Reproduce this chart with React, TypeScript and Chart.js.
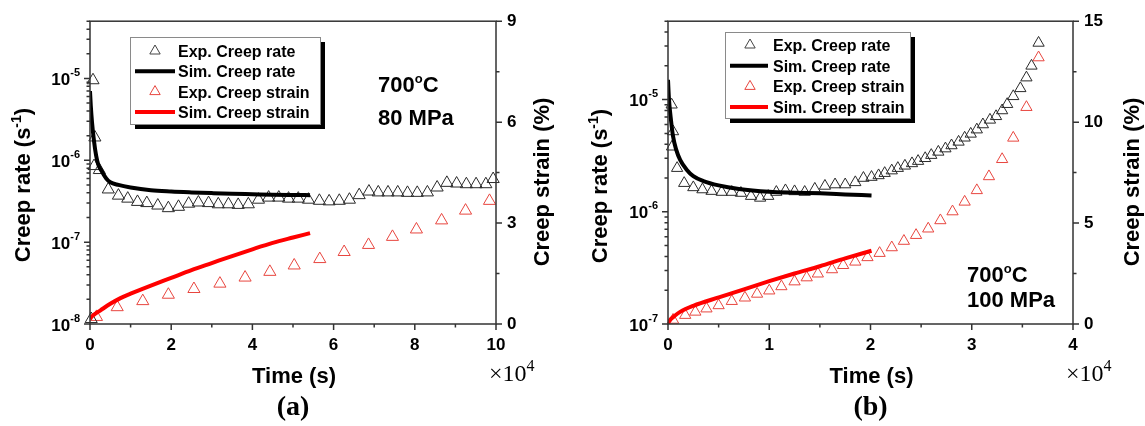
import { useEffect, useRef } from "react";
import { Chart, registerables } from "chart.js";

Chart.register(...registerables);

// ---------------- Panel (a): 700°C, 80 MPa (time in 10^4 s) ----------------
const aExpRateT = [0.03, 0.074, 0.12, 0.1, 0.23, 0.45, 0.7, 0.93, 1.17, 1.4, 1.67, 1.93, 2.18, 2.43, 2.67, 2.92, 3.16, 3.41, 3.65, 3.9, 4.15, 4.4, 4.65, 4.89, 5.13, 5.38, 5.65, 5.89, 6.14, 6.39, 6.63, 6.87, 7.1, 7.34, 7.58, 7.82, 8.06, 8.31, 8.55, 8.79, 9.03, 9.27, 9.51, 9.75, 9.93];
const aExpRateV = [1.15e-8, 9.5e-6, 1.9e-6, 8.5e-7, 7.6e-7, 4.4e-7, 3.7e-7, 3.4e-7, 3.1e-7, 3.0e-7, 2.8e-7, 2.6e-7, 2.7e-7, 2.95e-7, 3.05e-7, 3.0e-7, 2.9e-7, 2.9e-7, 2.85e-7, 2.9e-7, 3.3e-7, 3.5e-7, 3.5e-7, 3.4e-7, 3.4e-7, 3.3e-7, 3.2e-7, 3.15e-7, 3.2e-7, 3.3e-7, 3.75e-7, 4.15e-7, 4.05e-7, 4.05e-7, 4.05e-7, 4.0e-7, 4.0e-7, 4.05e-7, 4.65e-7, 5.3e-7, 5.2e-7, 5.1e-7, 5.1e-7, 5.1e-7, 5.9e-7];
const aSimRateT = [0, 0.02, 0.05, 0.1, 0.15, 0.2, 0.3, 0.4, 0.5, 0.7, 1.0, 1.5, 2.0, 2.5, 3.0, 3.5, 4.0, 4.5, 5.0, 5.42];
const aSimRateV = [7.0e-6, 4.6e-6, 2.9e-6, 1.7e-6, 1.15e-6, 9.0e-7, 7.2e-7, 6.0e-7, 5.4e-7, 5.0e-7, 4.65e-7, 4.3e-7, 4.15e-7, 4.05e-7, 3.97e-7, 3.9e-7, 3.85e-7, 3.8e-7, 3.77e-7, 3.75e-7];
const aExpStrainT = [0.16, 0.67, 1.3, 1.93, 2.56, 3.2, 3.82, 4.43, 5.03, 5.66, 6.26, 6.86, 7.45, 8.04, 8.66, 9.25, 9.84];
const aExpStrainV = [0.21, 0.5, 0.68, 0.87, 1.04, 1.2, 1.38, 1.55, 1.74, 1.93, 2.14, 2.35, 2.59, 2.81, 3.08, 3.37, 3.66];
const aSimStrainT = [0, 0.05, 0.1, 0.25, 0.5, 0.75, 1.0, 1.5, 2.0, 2.5, 3.0, 3.5, 4.0, 4.5, 5.0, 5.42];
const aSimStrainV = [0.15, 0.23, 0.28, 0.4, 0.6, 0.77, 0.9, 1.14, 1.37, 1.6, 1.81, 2.02, 2.22, 2.41, 2.57, 2.7];
const aTimeTicks = [0, 2, 4, 6, 8, 10];
const aTimeMinor = [1, 3, 5, 7, 9];
const aRateDecades = [1e-8, 1e-7, 1e-6, 1e-5];
const aStrainTicks = [0, 3, 6, 9];
const aStrainMinor = [1.5, 4.5, 7.5];

// ---------------- Panel (b): 700°C, 100 MPa ----------------
const bExpRateT = [0.036, 0.05, 0.04, 0.09, 0.16, 0.25, 0.34, 0.43, 0.53, 0.63, 0.72, 0.82, 0.91, 0.99, 1.07, 1.16, 1.25, 1.35, 1.45, 1.55, 1.65, 1.75, 1.85, 1.93, 2.01, 2.08, 2.14, 2.21, 2.27, 2.34, 2.41, 2.47, 2.54, 2.6, 2.67, 2.74, 2.8, 2.87, 2.93, 2.99, 3.05, 3.11, 3.18, 3.24, 3.3, 3.35, 3.41, 3.48, 3.54, 3.59, 3.66];
const bExpRateV = [9.0e-6, 5.2e-6, 3.8e-6, 2.45e-6, 1.8e-6, 1.65e-6, 1.58e-6, 1.53e-6, 1.5e-6, 1.5e-6, 1.47e-6, 1.38e-6, 1.33e-6, 1.38e-6, 1.5e-6, 1.55e-6, 1.52e-6, 1.5e-6, 1.6e-6, 1.7e-6, 1.75e-6, 1.75e-6, 1.83e-6, 2.0e-6, 2.04e-6, 2.11e-6, 2.21e-6, 2.33e-6, 2.45e-6, 2.57e-6, 2.7e-6, 2.83e-6, 3.0e-6, 3.2e-6, 3.42e-6, 3.66e-6, 3.9e-6, 4.2e-6, 4.57e-6, 4.95e-6, 5.4e-6, 6.0e-6, 6.6e-6, 7.1e-6, 8.0e-6, 9.1e-6, 1.07e-5, 1.26e-5, 1.57e-5, 2.0e-5, 3.2e-5];
const bSimRateT = [0, 0.01, 0.03, 0.05, 0.08, 0.12, 0.18, 0.25, 0.35, 0.5, 0.7, 1.0, 1.25, 1.5, 1.75, 2.01];
const bSimRateV = [1.5e-5, 1.0e-5, 6.5e-6, 4.7e-6, 3.6e-6, 2.9e-6, 2.4e-6, 2.08e-6, 1.88e-6, 1.72e-6, 1.6e-6, 1.51e-6, 1.48e-6, 1.46e-6, 1.43e-6, 1.4e-6];
const bExpStrainT = [0.05, 0.17, 0.27, 0.38, 0.5, 0.63, 0.76, 0.88, 1.0, 1.12, 1.25, 1.37, 1.48, 1.62, 1.73, 1.85, 1.97, 2.09, 2.21, 2.33, 2.45, 2.57, 2.69, 2.81, 2.93, 3.05, 3.17, 3.3, 3.41, 3.54, 3.66];
const bExpStrainV = [0.2, 0.44, 0.6, 0.76, 0.92, 1.13, 1.3, 1.49, 1.65, 1.86, 2.1, 2.3, 2.49, 2.7, 2.91, 3.08, 3.3, 3.51, 3.79, 4.11, 4.4, 4.72, 5.13, 5.57, 6.05, 6.62, 7.31, 8.16, 9.22, 10.74, 13.2];
const bSimStrainT = [0, 0.03, 0.06, 0.12, 0.25, 0.51, 0.75, 1.0, 1.25, 1.5, 1.75, 2.01];
const bSimStrainV = [0.05, 0.25, 0.38, 0.6, 0.9, 1.33, 1.72, 2.12, 2.5, 2.86, 3.25, 3.63];
const bTimeTicks = [0, 1, 2, 3, 4];
const bTimeMinor = [0.5, 1.5, 2.5, 3.5];
const bRateDecades = [1e-7, 1e-6, 1e-5];
const bStrainTicks = [0, 5, 10, 15];
const bStrainMinor = [2.5, 7.5, 12.5];

const legendLabels = ["Exp. Creep rate", "Sim. Creep rate", "Exp. Creep strain", "Sim. Creep strain"];

const SANS = '"Liberation Sans", Arial, Helvetica, sans-serif';
const SERIF = '"Liberation Serif", "Times New Roman", serif';
const AXIS = "#333333";
const BLACK_MK = "#2a2a2a";
const RED_MK = "#e8463f";
const RED_LINE = "#ff0000";

type Pt = { x: number; y: number };
const zip = (xs: number[], ys: number[]): Pt[] => xs.map((x, i) => ({ x, y: ys[i] }));

type Part = { t: string; sup?: boolean };

function drawParts(
  ctx: CanvasRenderingContext2D,
  parts: Part[],
  x: number,
  y: number,
  align: "left" | "center" | "right",
  font: string,
  supFont: string,
  rise: number
) {
  ctx.textBaseline = "alphabetic";
  ctx.textAlign = "left";
  let total = 0;
  const widths = parts.map((p) => {
    ctx.font = p.sup ? supFont : font;
    const w = ctx.measureText(p.t).width;
    total += w;
    return w;
  });
  let cx = align === "left" ? x : align === "center" ? x - total / 2 : x - total;
  parts.forEach((p, i) => {
    ctx.font = p.sup ? supFont : font;
    ctx.fillText(p.t, cx, p.sup ? y - rise : y);
    cx += widths[i];
  });
}

interface Spec {
  width: number;
  leftW: number;
  rightW: number;
  xMax: number;
  xTicks: number[];
  xMinor: number[];
  rateMin: number;
  rateMax: number;
  rateDecades: number[];
  strainMax: number;
  strainTicks: number[];
  strainMinor: number[];
  expRate: Pt[];
  simRate: Pt[];
  expStrain: Pt[];
  simStrain: Pt[];
  markerR: number;
  legend: { x: number; y: number; w: number; h: number; row0: number; dy: number; lineW: number };
  note: { x: number; y1: number; y2: number; l2: string };
  letter: string;
  leftTitle: { x: number; y: number };
  rightTitle: { x: number; y: number };
}

function makeDecor(s: Spec) {
  return {
    id: "decor",
    afterDraw(chart: any) {
      const ctx: CanvasRenderingContext2D = chart.ctx;
      const ca = chart.chartArea;
      const xs = chart.scales.x;
      const yl = chart.scales.y;
      const yr = chart.scales.y2;
      ctx.save();
      // frame
      ctx.strokeStyle = AXIS;
      ctx.lineWidth = 1.5;
      ctx.strokeRect(ca.left, ca.top, ca.right - ca.left, ca.bottom - ca.top);
      // ticks
      ctx.beginPath();
      s.xTicks.forEach((v) => {
        const p = xs.getPixelForValue(v);
        ctx.moveTo(p, ca.bottom);
        ctx.lineTo(p, ca.bottom + 6);
      });
      s.xMinor.forEach((v) => {
        const p = xs.getPixelForValue(v);
        ctx.moveTo(p, ca.bottom);
        ctx.lineTo(p, ca.bottom + 3.5);
      });
      s.rateDecades.forEach((d) => {
        const p = yl.getPixelForValue(d);
        ctx.moveTo(ca.left - 6, p);
        ctx.lineTo(ca.left, p);
        for (let m = 2; m <= 9; m++) {
          const v = d * m;
          if (v > s.rateMax * 1.0001) break;
          const q = yl.getPixelForValue(v);
          ctx.moveTo(ca.left - 3.5, q);
          ctx.lineTo(ca.left, q);
        }
      });
      s.strainTicks.forEach((v) => {
        const p = yr.getPixelForValue(v);
        ctx.moveTo(ca.right, p);
        ctx.lineTo(ca.right + 6, p);
      });
      s.strainMinor.forEach((v) => {
        const p = yr.getPixelForValue(v);
        ctx.moveTo(ca.right, p);
        ctx.lineTo(ca.right + 3.5, p);
      });
      ctx.stroke();

      ctx.fillStyle = "#000";
      // log tick labels
      s.rateDecades.forEach((d) => {
        const p = yl.getPixelForValue(d);
        const e = Math.round(Math.log10(d));
        drawParts(ctx, [{ t: "10" }, { t: String(e), sup: true }], ca.left - 10, p + 6.5, "right", `bold 17px ${SANS}`, `bold 11px ${SANS}`, 9);
      });

      // axis titles
      const tf = `bold 22px ${SANS}`;
      const tsf = `bold 14px ${SANS}`;
      ctx.save();
      ctx.translate(s.leftTitle.x, s.leftTitle.y);
      ctx.rotate(-Math.PI / 2);
      drawParts(ctx, [{ t: "Creep rate (s" }, { t: "-1", sup: true }, { t: ")" }], 0, 8, "center", tf, tsf, 9);
      ctx.restore();
      ctx.save();
      ctx.translate(s.rightTitle.x, s.rightTitle.y);
      ctx.rotate(-Math.PI / 2);
      drawParts(ctx, [{ t: "Creep strain (%)" }], 0, 8, "center", tf, tsf, 9);
      ctx.restore();
      const midX = (ca.left + ca.right) / 2;
      drawParts(ctx, [{ t: "Time (s)" }], midX + 1, 383, "center", tf, tsf, 9);
      drawParts(ctx, [{ t: s.letter }], midX, 415, "center", `bold 28px ${SERIF}`, `bold 16px ${SERIF}`, 9);
      drawParts(ctx, [{ t: "\u00d710" }, { t: "4", sup: true }], ca.right - 7, 381, "left", `24px ${SERIF}`, `16px ${SERIF}`, 10);

      // annotation
      const nf = `bold 22px ${SANS}`;
      drawParts(ctx, [{ t: "700" }, { t: "o", sup: true }, { t: "C" }], s.note.x, s.note.y1, "left", nf, `bold 13px ${SANS}`, 9);
      drawParts(ctx, [{ t: s.note.l2 }], s.note.x, s.note.y2, "left", nf, nf, 0);

      // legend
      const L = s.legend;
      ctx.fillStyle = "#000";
      ctx.fillRect(L.x + 5, L.y + 5, L.w, L.h);
      ctx.fillStyle = "#fff";
      ctx.fillRect(L.x, L.y, L.w, L.h);
      ctx.strokeStyle = "#8a8a8a";
      ctx.lineWidth = 1;
      ctx.strokeRect(L.x + 0.5, L.y + 0.5, L.w, L.h);
      legendLabels.forEach((lab, i) => {
        const cy = L.y + L.row0 + i * L.dy;
        const isExp = i % 2 === 0;
        const col = i < 2 ? (isExp ? "#444" : "#000") : isExp ? RED_MK : RED_LINE;
        if (isExp) {
          const r = 6;
          const cx = L.x + 25;
          ctx.strokeStyle = col;
          ctx.lineWidth = 1;
          ctx.beginPath();
          ctx.moveTo(cx, cy - r);
          ctx.lineTo(cx + r * 0.866, cy + r * 0.5);
          ctx.lineTo(cx - r * 0.866, cy + r * 0.5);
          ctx.closePath();
          ctx.stroke();
        } else {
          ctx.strokeStyle = col;
          ctx.lineWidth = 4;
          ctx.beginPath();
          ctx.moveTo(L.x + 5, cy);
          ctx.lineTo(L.x + 5 + L.lineW, cy);
          ctx.stroke();
        }
        ctx.fillStyle = "#000";
        drawParts(ctx, [{ t: lab }], L.x + 48, cy + 6, "left", `bold 16px ${SANS}`, `bold 10px ${SANS}`, 0);
      });
      ctx.restore();
    },
  };
}

function makeConfig(s: Spec): any {
  const tickFont = { family: SANS, size: 17, weight: "bold" as const };
  return {
    type: "line",
    data: {
      datasets: [
        {
          label: legendLabels[1],
          data: s.simRate,
          yAxisID: "y",
          showLine: true,
          borderColor: "#000",
          borderWidth: 4,
          pointRadius: 0,
          fill: false,
          cubicInterpolationMode: "monotone",
        },
        {
          label: legendLabels[3],
          data: s.simStrain,
          yAxisID: "y2",
          showLine: true,
          borderColor: RED_LINE,
          borderWidth: 4,
          pointRadius: 0,
          fill: false,
          cubicInterpolationMode: "monotone",
        },
        {
          label: legendLabels[0],
          data: s.expRate,
          yAxisID: "y",
          showLine: false,
          pointStyle: "triangle",
          pointRadius: s.markerR,
          pointBorderWidth: 1,
          pointBorderColor: BLACK_MK,
          pointBackgroundColor: "rgba(0,0,0,0)",
          clip: false,
        },
        {
          label: legendLabels[2],
          data: s.expStrain,
          yAxisID: "y2",
          showLine: false,
          pointStyle: "triangle",
          pointRadius: s.markerR,
          pointBorderWidth: 1,
          pointBorderColor: RED_MK,
          pointBackgroundColor: "rgba(0,0,0,0)",
          clip: false,
        },
      ],
    },
    options: {
      animation: false,
      responsive: false,
      maintainAspectRatio: false,
      devicePixelRatio: 1,
      layout: { padding: { top: 15, left: 0, right: 0, bottom: 0 } },
      plugins: { legend: { display: false }, tooltip: { enabled: false } },
      events: [],
      scales: {
        x: {
          type: "linear",
          position: "bottom",
          min: 0,
          max: s.xMax,
          grid: { display: false, drawTicks: false },
          border: { display: false },
          afterBuildTicks: (sc: any) => {
            sc.ticks = s.xTicks.map((v) => ({ value: v }));
          },
          ticks: { font: tickFont, color: "#000", padding: 11, maxRotation: 0, autoSkip: false },
          afterFit: (sc: any) => {
            sc.height = 102;
          },
        },
        y: {
          type: "logarithmic",
          position: "left",
          min: s.rateMin,
          max: s.rateMax,
          grid: { display: false, drawTicks: false },
          border: { display: false },
          ticks: { callback: () => "" },
          afterFit: (sc: any) => {
            sc.width = s.leftW;
          },
        },
        y2: {
          type: "linear",
          position: "right",
          min: 0,
          max: s.strainMax,
          grid: { display: false, drawTicks: false },
          border: { display: false },
          afterBuildTicks: (sc: any) => {
            sc.ticks = s.strainTicks.map((v) => ({ value: v }));
          },
          ticks: { font: tickFont, color: "#000", padding: 11, autoSkip: false },
          afterFit: (sc: any) => {
            sc.width = s.rightW;
          },
        },
      },
    },
    plugins: [makeDecor(s)],
  };
}

const specA: Spec = {
  width: 570,
  leftW: 90,
  rightW: 74,
  xMax: 10,
  xTicks: aTimeTicks,
  xMinor: aTimeMinor,
  rateMin: 1e-8,
  rateMax: 5e-5,
  rateDecades: aRateDecades,
  strainMax: 9,
  strainTicks: aStrainTicks,
  strainMinor: aStrainMinor,
  expRate: zip(aExpRateT, aExpRateV),
  simRate: zip(aSimRateT, aSimRateV),
  expStrain: zip(aExpStrainT, aExpStrainV),
  simStrain: zip(aSimStrainT, aSimStrainV),
  markerR: 7,
  legend: { x: 130, y: 37, w: 190, h: 87, row0: 14, dy: 20.3, lineW: 40 },
  note: { x: 378, y1: 92, y2: 125, l2: "80 MPa" },
  letter: "(a)",
  leftTitle: { x: 22, y: 185 },
  rightTitle: { x: 541, y: 182 },
};

const specB: Spec = {
  width: 575,
  leftW: 98,
  rightW: 72,
  xMax: 4,
  xTicks: bTimeTicks,
  xMinor: bTimeMinor,
  rateMin: 1e-7,
  rateMax: 5e-5,
  rateDecades: bRateDecades,
  strainMax: 15,
  strainTicks: bStrainTicks,
  strainMinor: bStrainMinor,
  expRate: zip(bExpRateT, bExpRateV),
  simRate: zip(bSimRateT, bSimRateV),
  expStrain: zip(bExpStrainT, bExpStrainV),
  simStrain: zip(bSimStrainT, bSimStrainV),
  markerR: 6.5,
  legend: { x: 155, y: 32, w: 185, h: 86, row0: 13, dy: 20.7, lineW: 38 },
  note: { x: 397, y1: 282, y2: 307, l2: "100 MPa" },
  letter: "(b)",
  leftTitle: { x: 29, y: 186 },
  rightTitle: { x: 561, y: 182 },
};

function Panel({ spec, left }: { spec: Spec; left: number }) {
  const ref = useRef<HTMLCanvasElement | null>(null);
  useEffect(() => {
    if (!ref.current) return;
    const chart = new Chart(ref.current, makeConfig(spec));
    return () => chart.destroy();
  }, [spec]);
  return (
    <canvas
      ref={ref}
      width={spec.width}
      height={426}
      style={{ position: "absolute", left, top: 0, width: spec.width, height: 426 }}
    />
  );
}

export default function App() {
  return (
    <div style={{ position: "fixed", left: 0, top: 0, width: 1145, height: 426, background: "#fff", overflow: "hidden" }}>
      <Panel spec={specA} left={0} />
      <Panel spec={specB} left={570} />
    </div>
  );
}
